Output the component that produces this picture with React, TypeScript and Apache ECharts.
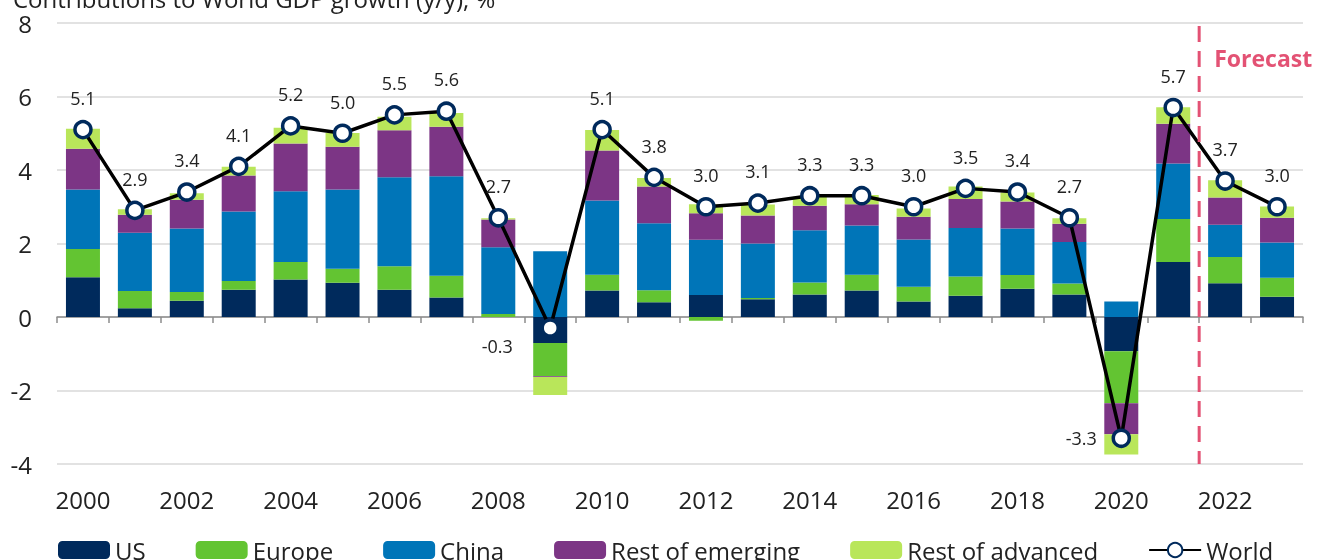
import React, { useEffect, useRef } from "react";
import * as echarts from "echarts";

const years = [
  "2000", "2001", "2002", "2003", "2004", "2005", "2006", "2007", "2008", "2009", "2010", "2011",
  "2012", "2013", "2014", "2015", "2016", "2017", "2018", "2019", "2020", "2021", "2022", "2023",
];
const us = [1.08, 0.24, 0.44, 0.74, 1.02, 0.93, 0.74, 0.53, 0.0, -0.71, 0.72, 0.4, 0.6, 0.48, 0.61, 0.72, 0.42, 0.58, 0.77, 0.61, -0.93, 1.5, 0.92, 0.55];
const europe = [0.77, 0.47, 0.24, 0.24, 0.48, 0.38, 0.64, 0.59, 0.08, -0.9, 0.43, 0.33, -0.1, 0.04, 0.33, 0.43, 0.4, 0.52, 0.37, 0.3, -1.42, 1.17, 0.71, 0.52];
const china = [1.62, 1.58, 1.73, 1.89, 1.92, 2.16, 2.42, 2.71, 1.82, 1.79, 2.02, 1.82, 1.5, 1.48, 1.42, 1.34, 1.29, 1.32, 1.27, 1.13, 0.42, 1.51, 0.88, 0.96];
const restEmerging = [1.11, 0.49, 0.78, 0.98, 1.3, 1.16, 1.28, 1.35, 0.75, -0.02, 1.36, 1.0, 0.72, 0.76, 0.67, 0.58, 0.62, 0.79, 0.73, 0.5, -0.84, 1.08, 0.74, 0.67];
const restAdvanced = [0.54, 0.15, 0.18, 0.24, 0.43, 0.38, 0.37, 0.37, 0.04, -0.49, 0.56, 0.23, 0.25, 0.3, 0.24, 0.25, 0.22, 0.34, 0.25, 0.15, -0.55, 0.45, 0.47, 0.31];
const world = [5.1, 2.9, 3.4, 4.1, 5.2, 5.0, 5.5, 5.6, 2.7, -0.3, 5.1, 3.8, 3.0, 3.1, 3.3, 3.3, 3.0, 3.5, 3.4, 2.7, -3.3, 5.7, 3.7, 3.0];
const firstForecastYear = "2022";
const lastActualYear = "2021";

const FONT = "'Open Sans', 'Noto Sans', sans-serif";
const TXT = "#222222";

export default function App() {
  const ref = useRef<HTMLDivElement>(null);

  useEffect(() => {
    if (!ref.current) return;
    const chart = echarts.init(ref.current, undefined, { renderer: "svg" });

    const barSeries = (name: string, data: number[], color: string) => ({
      name,
      type: "bar",
      stack: "total",
      data,
      barWidth: 34,
      xAxisIndex: 0,
      itemStyle: { color },
    });

    const worldData = world.map((v, i) => {
      if (years[i] === "2009") {
        return { value: v, label: { position: "inside", offset: [-53, 18] } };
      }
      if (years[i] === "2020") {
        return { value: v, label: { position: "inside", offset: [-40, 0] } };
      }
      return v;
    });

    chart.setOption({
      animation: false,
      textStyle: { fontFamily: FONT },
      title: {
        text: "Contributions to World GDP growth (y/y), %",
        left: 8,
        top: -19,
        textStyle: { fontSize: 24, fontWeight: "normal", color: TXT, fontFamily: FONT },
      },
      legend: {
        left: 53,
        top: 533,
        itemWidth: 52,
        itemHeight: 18,
        itemGap: 50,
        textStyle: { fontSize: 24, color: TXT, fontFamily: FONT },
        data: ["US", "Europe", "China", "Rest of emerging", "Rest of advanced", "World"],
      },
      grid: { left: 57, right: 14, top: 23, bottom: 96, containLabel: false },
      xAxis: [
        {
          type: "category",
          data: years,
          position: "bottom",
          axisLine: { show: false, onZero: false },
          axisTick: { show: false },
          axisLabel: { interval: 1, fontSize: 24, color: TXT, margin: 23, fontFamily: FONT },
        },
        {
          type: "category",
          data: years,
          position: "top",
          axisLine: { show: true, onZero: true, lineStyle: { color: "#8c8c8c", width: 1.5 } },
          axisTick: { show: true, inside: true, length: 6, lineStyle: { color: "#8c8c8c", width: 1.5 } },
          axisLabel: { show: false },
        },
      ],
      yAxis: {
        type: "value",
        min: -4,
        max: 8,
        interval: 2,
        axisLine: { show: false },
        axisTick: { show: false },
        axisLabel: { fontSize: 24, color: TXT, margin: 25, fontFamily: FONT },
        splitLine: { lineStyle: { color: "#d9d9d9", width: 1.5 } },
      },
      series: [
        barSeries("US", us, "#002a5c"),
        barSeries("Europe", europe, "#63c432"),
        barSeries("China", china, "#0075b8"),
        barSeries("Rest of emerging", restEmerging, "#7c3585"),
        barSeries("Rest of advanced", restAdvanced, "#b9e65a"),
        {
          name: "World",
          type: "line",
          xAxisIndex: 0,
          data: worldData,
          symbol: "circle",
          symbolSize: 16,
          z: 5,
          lineStyle: { color: "#000000", width: 3.5 },
          itemStyle: { color: "#ffffff", borderColor: "#002a5c", borderWidth: 3.5 },
          label: {
            show: true,
            position: "top",
            distance: 13,
            fontSize: 18,
            color: TXT,
            fontFamily: FONT,
            formatter: (p: any) => Number(p.value).toFixed(1),
          },
        },
      ],
    });

    const xa = chart.convertToPixel({ xAxisIndex: 0 }, lastActualYear) as number;
    const xb = chart.convertToPixel({ xAxisIndex: 0 }, firstForecastYear) as number;
    const x = (xa + xb) / 2;
    const yTop = chart.convertToPixel({ yAxisIndex: 0 }, 8) as number;
    const yBot = chart.convertToPixel({ yAxisIndex: 0 }, -4) as number;
    const yText = chart.convertToPixel({ yAxisIndex: 0 }, 7.05) as number;

    chart.setOption({
      graphic: [
        {
          type: "line",
          z: 10,
          shape: { x1: x, y1: yTop + 3, x2: x, y2: yBot },
          style: { stroke: "#e35274", lineWidth: 3, lineDash: [16, 9] },
        },
        {
          type: "text",
          z: 10,
          x: x + 15,
          y: yText,
          style: {
            text: "Forecast",
            fill: "#e35274",
            font: `bold 23px ${FONT}`,
            verticalAlign: "middle",
            align: "left",
          },
        },
      ],
    });

    return () => chart.dispose();
  }, []);

  return (
    <div
      ref={ref}
      style={{ position: "fixed", left: 0, top: 0, width: 1317, height: 560 }}
    />
  );
}
